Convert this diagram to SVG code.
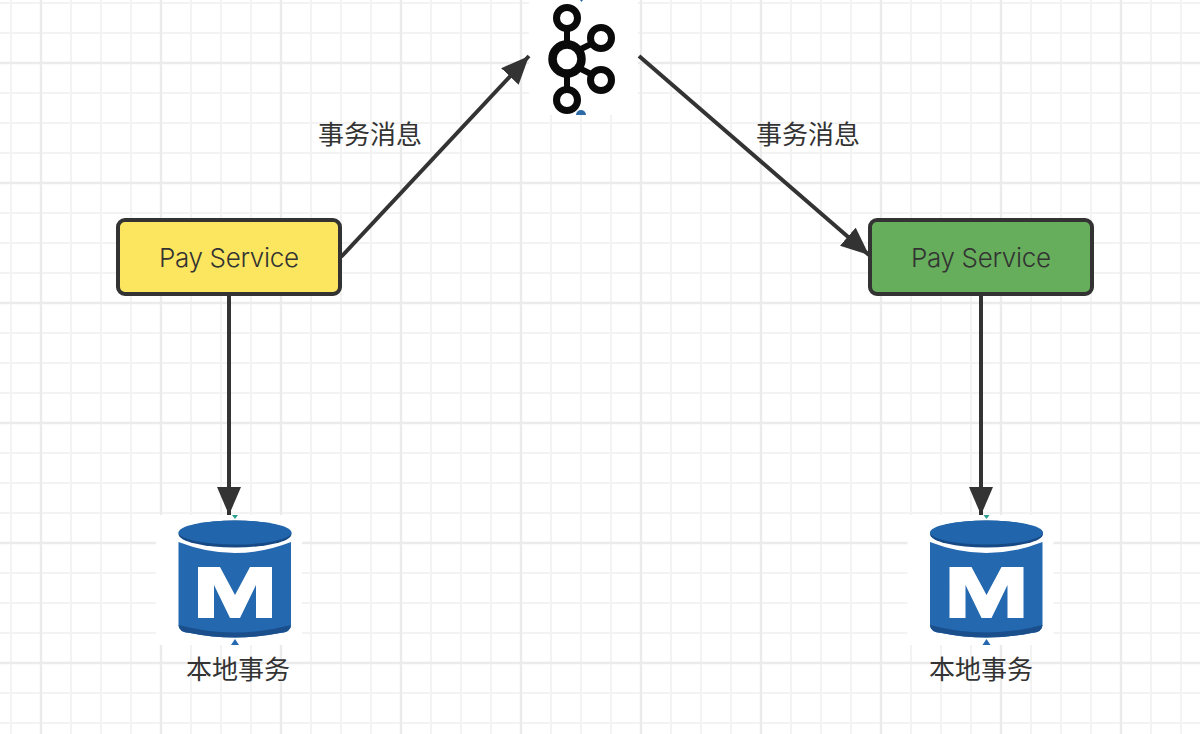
<svg xmlns="http://www.w3.org/2000/svg" width="1200" height="734" viewBox="0 0 1200 734">
<style>
.minor{stroke:#f3f3f3;stroke-width:2;fill:none}
.major{stroke:#ebebeb;stroke-width:2.4;fill:none}
.box{stroke:#333;stroke-width:4}
.t{font-family:"Noto Sans CJK SC","Noto Sans",sans-serif;font-size:26px;font-weight:400;fill:#333;text-anchor:middle}
.p{font-family:"Inter","Noto Sans",sans-serif;font-size:26px;font-weight:300;fill:#333;text-anchor:middle}
.e{stroke:#333;stroke-width:4;fill:none}
.k{fill:#fff;stroke:#0a0a0a}
</style>
<defs>
<marker id="a" markerUnits="userSpaceOnUse" markerWidth="30" markerHeight="24" refX="28" refY="12" orient="auto">
<path d="M0 0 L28 12 L0 24 Z" fill="#333"/>
</marker>
<g id="db">
<rect x="156" y="515" width="146" height="130" fill="#fff"/>
<path d="M178.500 542 Q235 564 291 542 V625 Q291 632 280 633 Q235 642 190 633 Q178.500 632 178.500 625 Z" fill="#2468b0"/>
<path d="M178.500 625 Q178.500 632 190 633 Q235 642 280 633 Q291 632 291 625 Q235 640 178.500 625 Z" fill="#1a4f8c"/>
<ellipse cx="235" cy="534" rx="56.500" ry="13.500" fill="#174a85"/>
<ellipse cx="235" cy="532.500" rx="56.500" ry="12" fill="#2166ad"/>
<path d="M198 618 V567 H220 L235 595 L250 567 H272 V618 H256 V585 L240 618 H230 L214 585 V618 Z" fill="#fff"/>
<path d="M232 515 H238 L235 519 Z" fill="#2a9d8f"/>
<path d="M231 645 L235 639 L239 645 Z" fill="#2468b0"/>
</g>
</defs>
<rect width="1200" height="734" fill="#fff"/>
<g id="grid">
<path class="minor" d="M11 0V734M71 0V734M101 0V734M131 0V734M191 0V734M221 0V734M251 0V734M311 0V734M341 0V734M371 0V734M431 0V734M461 0V734M491 0V734M551 0V734M581 0V734M611 0V734M671 0V734M701 0V734M731 0V734M791 0V734M821 0V734M851 0V734M911 0V734M941 0V734M971 0V734M1031 0V734M1061 0V734M1091 0V734M1151 0V734M1181 0V734"/>
<path class="minor" d="M0 3H1200M0 33H1200M0 93H1200M0 123H1200M0 153H1200M0 213H1200M0 243H1200M0 273H1200M0 333H1200M0 363H1200M0 393H1200M0 453H1200M0 483H1200M0 513H1200M0 573H1200M0 603H1200M0 633H1200M0 693H1200M0 723H1200"/>
<path class="major" d="M41 0V734M161 0V734M281 0V734M401 0V734M521 0V734M641 0V734M761 0V734M881 0V734M1001 0V734M1121 0V734"/>
<path class="major" d="M0 63H1200M0 183H1200M0 303H1200M0 423H1200M0 543H1200M0 663H1200"/>
</g>
<g id="kafka">
<rect x="529" y="0" width="109" height="115" fill="#fff"/>
<path d="M567 28V88M575 52L593 43M575 66L593 75" stroke="#0a0a0a" stroke-width="6" fill="none"/>
<circle class="k" cx="567" cy="18" r="10.500" stroke-width="7"/>
<circle class="k" cx="567" cy="59" r="14.500" stroke-width="8.500"/>
<circle class="k" cx="601" cy="38" r="10.500" stroke-width="7"/>
<circle class="k" cx="601" cy="80" r="10.500" stroke-width="7"/>
<circle class="k" cx="567" cy="100" r="10.500" stroke-width="7"/>
<path d="M576 115 A5 5 0 0 1 586 115 Z" fill="#2c6aa8"/>
<path d="M580 0H583L581.500 2Z" fill="#2c6aa8"/>
</g>
<g id="db-left"><use href="#db"/><text class="t" x="238" y="679">本地事务</text></g>
<g id="db-right"><use href="#db" x="751.500" y="0"/><text class="t" x="981" y="679">本地事务</text></g>
<g id="connectors">
<path class="e" d="M341 257L529 56" marker-end="url(#a)"/>
<path class="e" d="M639 56L869 255" marker-end="url(#a)"/>
<path class="e" d="M229 295V515" marker-end="url(#a)"/>
<path class="e" d="M981 295V515" marker-end="url(#a)"/>
<text class="t" x="370" y="144">事务消息</text>
<text class="t" x="808" y="144">事务消息</text>
</g>
<g id="pay-left"><rect class="box" x="118" y="220" width="222" height="74" rx="7" fill="#fde65f"/><text class="p" x="229" y="267" textLength="140" lengthAdjust="spacing">Pay Service</text></g>
<g id="pay-right"><rect class="box" x="870" y="220" width="222" height="74" rx="7" fill="#66ae5c"/><text class="p" x="981" y="267" textLength="140" lengthAdjust="spacing">Pay Service</text></g>
</svg>
